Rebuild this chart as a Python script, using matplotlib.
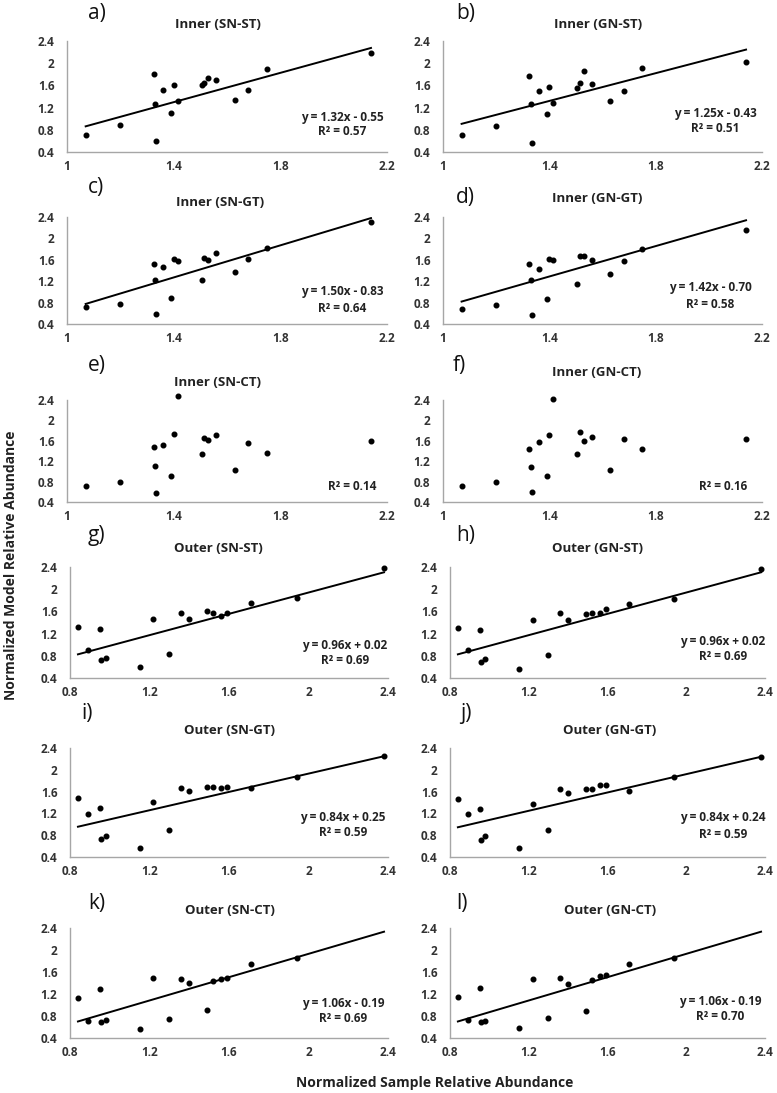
import numpy as np
import matplotlib
matplotlib.use("Agg")
import matplotlib.pyplot as plt
from matplotlib.ticker import FuncFormatter

plt.rcParams['font.family'] = ['Open Sans', 'DejaVu Sans']

# sample abundance (x) shared by the inner panels and by the outer panels
inner_x = [1.07, 1.20, 1.325, 1.33, 1.335, 1.36, 1.39, 1.40, 1.415, 1.505,
           1.515, 1.53, 1.56, 1.63, 1.68, 1.75, 2.14]
outer_x = [0.84, 0.89, 0.95, 0.955, 0.98, 1.15, 1.22, 1.30, 1.36, 1.40,
           1.49, 1.52, 1.56, 1.59, 1.71, 1.94, 2.38]

# model abundance (y) per panel
y_a = [0.71, 0.89, 1.81, 1.26, 0.59, 1.51, 1.10, 1.60, 1.31, 1.61, 1.64, 1.74, 1.69, 1.34, 1.51, 1.90, 2.19]
y_b = [0.70, 0.87, 1.77, 1.27, 0.57, 1.50, 1.09, 1.58, 1.28, 1.55, 1.65, 1.86, 1.63, 1.32, 1.50, 1.92, 2.03]
y_c = [0.72, 0.78, 1.52, 1.23, 0.59, 1.47, 0.89, 1.61, 1.57, 1.23, 1.63, 1.59, 1.72, 1.37, 1.62, 1.82, 2.30]
y_d = [0.68, 0.76, 1.53, 1.23, 0.56, 1.42, 0.87, 1.62, 1.59, 1.14, 1.68, 1.67, 1.60, 1.33, 1.57, 1.80, 2.16]
y_e = [0.72, 0.79, 1.48, 1.10, 0.57, 1.51, 0.91, 1.74, 2.48, 1.34, 1.66, 1.61, 1.72, 1.02, 1.56, 1.37, 1.59]
y_f = [0.71, 0.80, 1.44, 1.09, 0.59, 1.57, 0.91, 1.72, 2.42, 1.35, 1.78, 1.59, 1.68, 1.03, 1.63, 1.44, 1.63]
y_g = [1.32, 0.91, 1.28, 0.73, 0.76, 0.59, 1.46, 0.83, 1.58, 1.46, 1.60, 1.57, 1.52, 1.58, 1.76, 1.84, 2.38]
y_h = [1.30, 0.90, 1.27, 0.69, 0.75, 0.57, 1.44, 0.81, 1.58, 1.44, 1.56, 1.57, 1.58, 1.64, 1.74, 1.83, 2.37]
y_i = [1.48, 1.18, 1.29, 0.73, 0.79, 0.57, 1.41, 0.89, 1.66, 1.61, 1.69, 1.68, 1.66, 1.68, 1.66, 1.87, 2.26]
y_j = [1.47, 1.18, 1.28, 0.71, 0.79, 0.57, 1.37, 0.89, 1.65, 1.57, 1.64, 1.65, 1.72, 1.72, 1.62, 1.86, 2.23]
y_k = [1.13, 0.71, 1.30, 0.69, 0.72, 0.57, 1.49, 0.75, 1.47, 1.40, 0.91, 1.44, 1.47, 1.49, 1.74, 1.86, np.nan]
y_l = [1.14, 0.72, 1.31, 0.69, 0.71, 0.58, 1.47, 0.77, 1.49, 1.39, 0.90, 1.46, 1.53, 1.54, 1.75, 1.86, np.nan]

letters = list("abcdefghijkl")
titles = ["Inner (SN-ST)", "Inner (GN-ST)", "Inner (SN-GT)", "Inner (GN-GT)",
          "Inner (SN-CT)", "Inner (GN-CT)", "Outer (SN-ST)", "Outer (GN-ST)",
          "Outer (SN-GT)", "Outer (GN-GT)", "Outer (SN-CT)", "Outer (GN-CT)"]
ys = [y_a, y_b, y_c, y_d, y_e, y_f, y_g, y_h, y_i, y_j, y_k, y_l]
# trend line (slope, intercept), None where no line is shown
fits = [(1.32, -0.55), (1.25, -0.43), (1.50, -0.83), (1.42, -0.70), None, None,
        (0.96, 0.02), (0.96, 0.02), (0.84, 0.25), (0.84, 0.24), (1.06, -0.19), (1.06, -0.19)]
eqs = ["y = 1.32x - 0.55", "y = 1.25x - 0.43", "y = 1.50x - 0.83", "y = 1.42x - 0.70", None, None,
       "y = 0.96x + 0.02", "y = 0.96x + 0.02", "y = 0.84x + 0.25", "y = 0.84x + 0.24",
       "y = 1.06x - 0.19", "y = 1.06x - 0.19"]
r2 = ["0.57", "0.51", "0.64", "0.58", "0.14", "0.16", "0.69", "0.69", "0.59", "0.59", "0.69", "0.70"]

W, H = 777, 1093
fig = plt.figure(figsize=(W / 100, H / 100), dpi=100)

# layout in pixels
rows = [(41, 152), (217, 324), (400, 502), (567, 678), (748, 857), (928, 1038)]
cols_inner = [(67, 387), (443, 762)]
cols_outer = [(70, 388), (450, 765)]
title_pos = [(218, 25), (598, 25), (220, 202), (597, 198), (218, 382), (597, 372),
             (218, 548), (598, 548), (230, 730), (610, 730), (230, 910), (610, 910)]
label_pos = [(88, 13), (456, 13), (88, 188), (456, 198), (88, 366), (453, 365),
             (88, 535), (456, 535), (81, 713), (460, 713), (88, 903), (456, 903)]
eq_pos = [(342, 118, 132), (715, 114, 129), (342, 292, 308), (710, 288, 304),
          (352, None, 486), (723, None, 486), (345, 645, 660), (723, 641, 657),
          (343, 817, 833), (723, 818, 835), (343, 1003, 1018), (720, 1002, 1017)]

fmt = FuncFormatter(lambda v, p: "%g" % round(v, 2))
spine_col = "#a6a6a6"

for n in range(12):
    r, c = divmod(n, 2)
    outer = r >= 3
    x0, x1 = (cols_outer if outer else cols_inner)[c]
    top, bot = rows[r]
    ax = fig.add_axes([x0 / W, 1 - bot / H, (x1 - x0) / W, (bot - top) / H])
    xs = outer_x if outer else inner_x
    ax.scatter(xs, ys[n], s=11, color="black", zorder=3, clip_on=False)
    if fits[n] is not None:
        m, b = fits[n]
        xx = np.array([min(xs), max(xs)])
        ax.plot(xx, m * xx + b, color="black", lw=1.4, zorder=2)
    if outer:
        ax.set_xlim(0.8, 2.4)
        ax.set_xticks([0.8, 1.2, 1.6, 2.0, 2.4])
    else:
        ax.set_xlim(1.0, 2.2)
        ax.set_xticks([1.0, 1.4, 1.8, 2.2])
    ax.set_ylim(0.4, 2.4)
    ax.set_yticks([0.4, 0.8, 1.2, 1.6, 2.0, 2.4])
    ax.xaxis.set_major_formatter(fmt)
    ax.yaxis.set_major_formatter(fmt)
    for s in ["top", "right"]:
        ax.spines[s].set_visible(False)
    for s in ["left", "bottom"]:
        ax.spines[s].set_color(spine_col)
        ax.spines[s].set_linewidth(1.0)
    ax.tick_params(length=0, labelsize=8.5, pad=6)
    ax.tick_params(axis="y", pad=9)
    for t in ax.get_xticklabels() + ax.get_yticklabels():
        t.set_fontweight("bold")
        t.set_color("#333333")

    tx, ty = title_pos[n]
    fig.text(tx / W, 1 - ty / H, titles[n], ha="center", va="center",
             fontsize=9.5, fontweight="bold", color="#222222")
    lx, ly = label_pos[n]
    fig.text(lx / W, 1 - ly / H, letters[n] + ")", ha="left", va="center",
             fontsize=15, color="#111111")
    ex, ey, ry = eq_pos[n]
    if eqs[n] is not None:
        fig.text(ex / W, 1 - ey / H, eqs[n], ha="center", va="center",
                 fontsize=8.5, fontweight="bold", color="#222222")
    fig.text(ex / W, 1 - ry / H, "R\u00b2 = " + r2[n], ha="center", va="center",
             fontsize=8.5, fontweight="bold", color="#222222")

fig.text(11 / W, 1 - 565 / H, "Normalized Model Relative Abundance", rotation=90,
         ha="center", va="center", fontsize=10, fontweight="bold", color="#222222")
fig.text(435 / W, 1 - 1083 / H, "Normalized Sample Relative Abundance",
         ha="center", va="center", fontsize=10, fontweight="bold", color="#222222")

fig.savefig("out.png", dpi=100)
